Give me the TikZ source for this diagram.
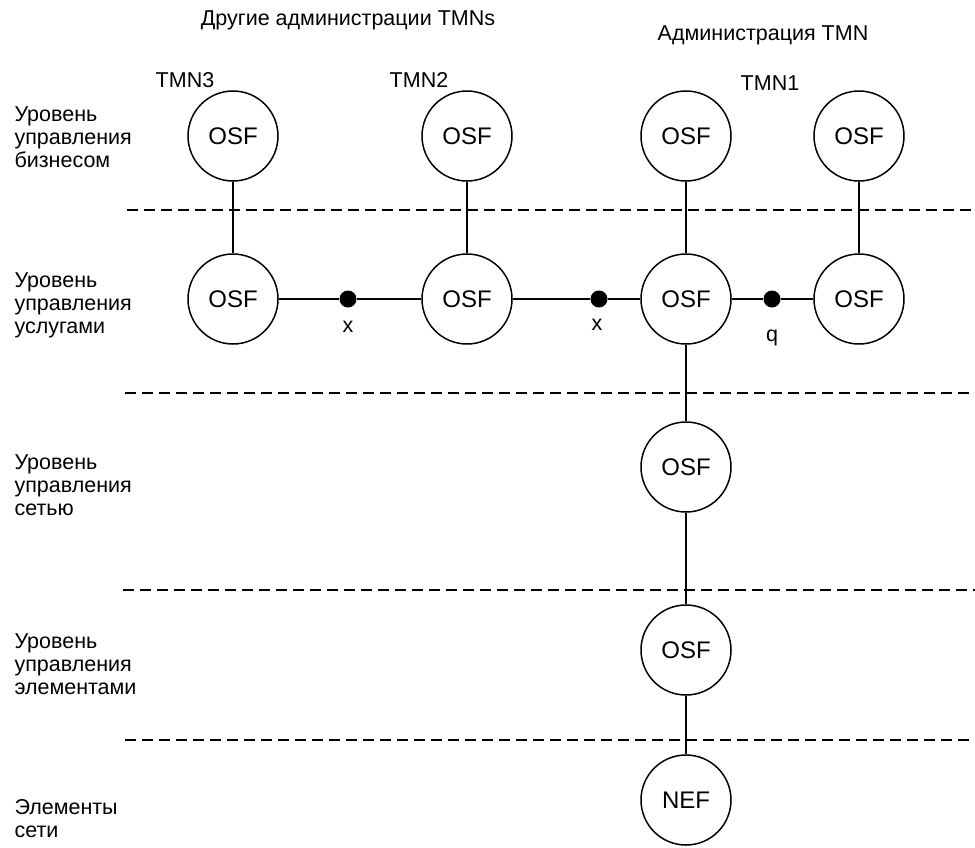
\documentclass[tikz,border=0pt]{standalone}
\usepackage{fontspec}
\setmainfont{Liberation Sans}
\begin{document}
\begin{tikzpicture}[x=1pt,y=-1pt,
  func/.style={draw, circle, line width=1.5pt, minimum size=90pt, inner sep=0pt, font=\fontsize{24}{27}\selectfont},
  lbl/.style={font=\fontsize{21.5}{23}\selectfont},
  lvl/.style={font=\fontsize{21.5}{23}\selectfont, align=left, anchor=west},
  conn/.style={line width=1.5pt},
  sep/.style={line width=1.5pt, dash pattern=on 11pt off 6pt},
  refpt/.style={circle, fill=black, minimum size=17pt, inner sep=0pt}]
\useasboundingbox (0,0) rectangle (975,847);
% titles
\node[lbl] (t1) at (348,20) {Другие администрации TMNs};
\node[lbl] (t2) at (763,35) {Администрация TMN};
\node[lbl] (tmn3) at (185,80) {TMN3};
\node[lbl] (tmn2) at (419,80) {TMN2};
\node[lbl] (tmn1) at (770,83) {TMN1};
% level labels
\node[lvl] (l1) at (11,137) {Уровень\\управления\\бизнесом};
\node[lvl] (l2) at (11,305) {Уровень\\управления\\услугами};
\node[lvl] (l3) at (11,485) {Уровень\\управления\\сетью};
\node[lvl] (l4) at (11,664) {Уровень\\управления\\элементами};
\node[lvl] (l5) at (11,819) {Элементы\\сети};
% separators
\coordinate (s1a) at (127,210); \coordinate (s1b) at (975,210);
\coordinate (s2a) at (125,393); \coordinate (s2b) at (975,393);
\coordinate (s3a) at (123,590); \coordinate (s3b) at (975,590);
\coordinate (s4a) at (125,740); \coordinate (s4b) at (975,740);
\draw[sep] (s1a) -- (s1b);
\draw[sep] (s2a) -- (s2b);
\draw[sep] (s3a) -- (s3b);
\draw[sep] (s4a) -- (s4b);
% function blocks
\node[func] (b3) at (233,136) {OSF};
\node[func] (b2) at (467,136) {OSF};
\node[func] (b1) at (686,136) {OSF};
\node[func] (b0) at (859,136) {OSF};
\node[func] (s3) at (233,299) {OSF};
\node[func] (s2) at (467,299) {OSF};
\node[func] (s1) at (686,299) {OSF};
\node[func] (s0) at (859,299) {OSF};
\node[func] (n1) at (686,467) {OSF};
\node[func] (e1) at (686,650) {OSF};
\node[func] (ne) at (686,800) {NEF};
% reference points
\node[refpt] (p1) at (348,299) {};
\node[refpt] (p2) at (599,299) {};
\node[refpt] (p3) at (772,299) {};
\node[lbl] (px1) at (348,327) {x};
\node[lbl] (px2) at (597,325) {x};
\node[lbl] (pq) at (772,338) {q};
% connectors
\draw[conn] (b3) -- (s3);
\draw[conn] (b2) -- (s2);
\draw[conn] (b1) -- (s1);
\draw[conn] (b0) -- (s0);
\draw[conn] (s3.east) -- (p1) -- (s2.west);
\draw[conn] (s2.east) -- (p2) -- (s1.west);
\draw[conn] (s1.east) -- (p3) -- (s0.west);
\draw[conn] (s1) -- (n1);
\draw[conn] (n1) -- (e1);
\draw[conn] (e1) -- (ne);
\end{tikzpicture}
\end{document}
